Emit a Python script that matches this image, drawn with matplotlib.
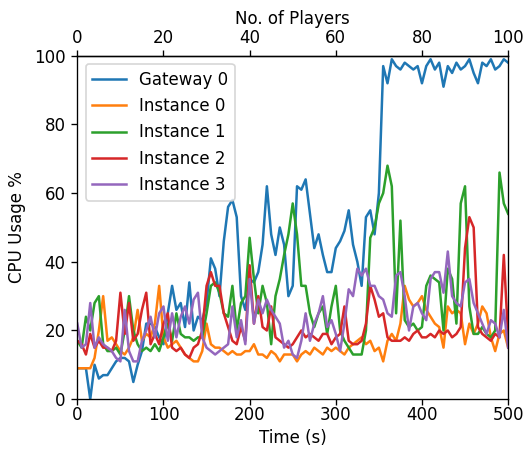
import numpy as np
import matplotlib
matplotlib.use("Agg")
import matplotlib.pyplot as plt

# sample times in seconds (5 s step)
time_s = np.arange(0, 501, 5)

gateway0 = [9, 9, 9, 0, 10, 6, 7, 7, 9, 11,
            12, 12, 11, 5, 10, 14, 22, 22, 21, 18,
            16, 25, 33, 26, 28, 21, 34, 20, 24, 23,
            28, 41, 38, 30, 46, 56, 58, 53, 30, 26,
            35, 34, 37, 45, 62, 48, 42, 50, 45, 30,
            33, 62, 61, 64, 54, 44, 48, 42, 37, 37,
            44, 46, 49, 55, 45, 40, 33, 53, 55, 48,
            60, 97, 92, 99, 97, 96, 98, 97, 96, 97,
            92, 97, 99, 96, 98, 91, 97, 95, 98, 96,
            97, 99, 95, 92, 98, 97, 99, 96, 97, 99,
            98]

instance0 = [9, 9, 9, 9, 12, 20, 30, 17, 18, 16,
             14, 13, 15, 18, 26, 17, 19, 18, 22, 33,
             18, 15, 16, 17, 15, 13, 12, 11, 11, 14,
             22, 16, 15, 15, 14, 13, 14, 13, 13, 14,
             14, 16, 13, 13, 12, 14, 13, 11, 13, 13,
             13, 11, 13, 14, 13, 15, 14, 13, 15, 14,
             15, 14, 13, 15, 16, 17, 18, 16, 17, 14,
             15, 11, 17, 19, 17, 22, 33, 29, 27, 28,
             30, 26, 24, 22, 21, 15, 27, 25, 26, 25,
             16, 22, 19, 22, 27, 25, 18, 14, 19, 20,
             15]

instance1 = [17, 15, 24, 20, 28, 30, 16, 14, 14, 15,
             13, 20, 30, 20, 16, 14, 15, 14, 16, 14,
             18, 22, 17, 25, 19, 18, 18, 17, 18, 18,
             25, 33, 34, 31, 25, 24, 33, 20, 28, 30,
             47, 35, 25, 33, 28, 16, 30, 35, 42, 48,
             57, 48, 33, 33, 25, 21, 25, 27, 19, 27,
             33, 20, 17, 15, 13, 13, 13, 20, 47, 50,
             57, 60, 68, 62, 25, 52, 23, 21, 22, 20,
             21, 33, 36, 35, 34, 20, 38, 35, 22, 57,
             62, 27, 19, 19, 21, 19, 18, 20, 66, 57,
             54]

instance2 = [17, 16, 13, 19, 15, 17, 15, 15, 14, 17,
             31, 19, 28, 17, 19, 26, 31, 16, 19, 16,
             22, 25, 15, 14, 15, 13, 12, 15, 16, 20,
             33, 37, 33, 33, 25, 21, 17, 16, 21, 17,
             39, 22, 30, 21, 20, 27, 18, 17, 16, 15,
             16, 18, 20, 18, 19, 18, 17, 19, 19, 16,
             18, 19, 27, 17, 16, 16, 17, 22, 33, 29,
             24, 25, 18, 17, 17, 17, 18, 17, 19, 20,
             18, 18, 19, 18, 20, 19, 20, 18, 19, 21,
             44, 53, 50, 21, 19, 18, 17, 19, 18, 42,
             18]

instance3 = [22, 15, 16, 28, 15, 18, 16, 15, 14, 12,
             11, 26, 14, 11, 11, 17, 20, 24, 18, 25,
             27, 17, 25, 18, 24, 27, 22, 29, 31, 18,
             15, 14, 13, 14, 15, 16, 27, 18, 23, 16,
             35, 22, 29, 25, 29, 26, 24, 22, 15, 17,
             13, 12, 17, 25, 17, 22, 25, 30, 21, 23,
             19, 14, 22, 32, 30, 38, 36, 38, 33, 33,
             30, 29, 25, 24, 36, 37, 30, 20, 27, 28,
             25, 23, 35, 37, 37, 31, 43, 30, 28, 27,
             34, 35, 28, 25, 22, 19, 23, 22, 18, 26,
             15]

series = [("Gateway 0", gateway0), ("Instance 0", instance0),
          ("Instance 1", instance1), ("Instance 2", instance2),
          ("Instance 3", instance3)]

fig = plt.figure(figsize=(526 / 120, 450 / 120), dpi=120)
ax = fig.add_axes([0.147, 0.113, 0.819, 0.763])

for name, vals in series:
    ax.plot(time_s, vals, label=name)

ax.set_xlim(0, 500)
ax.set_ylim(0, 100)
ax.tick_params(axis="x", pad=0.5)
ax.set_xlabel("Time (s)", labelpad=3)
ax.set_ylabel("CPU Usage %", labelpad=5)
ax.legend(loc="upper left")

# players joined over time, one every 5 seconds
top = ax.secondary_xaxis("top", functions=(lambda t: t / 5, lambda p: p * 5))
top.set_xlabel("No. of Players", labelpad=3)
top.set_xticks([0, 20, 40, 60, 80, 100])
top.tick_params(axis="x", pad=2)

fig.savefig("out.png", dpi=120)
